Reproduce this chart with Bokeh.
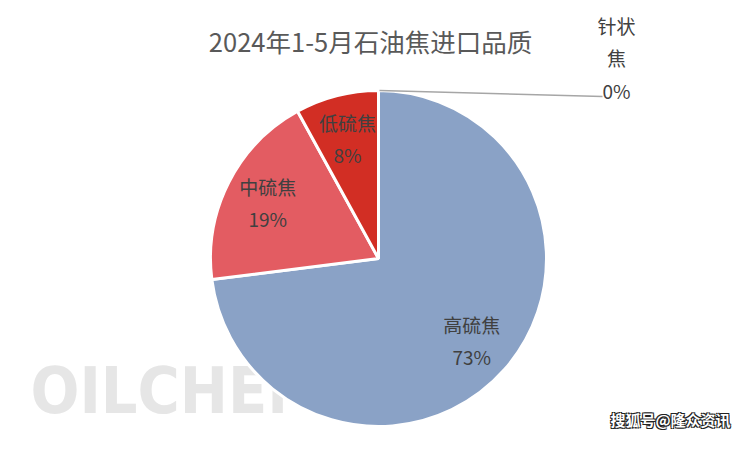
import math
from bokeh.plotting import figure
from bokeh.models import ColumnDataSource, Range1d
from bokeh.core.properties import value
from bokeh.embed import file_html
from bokeh.resources import INLINE

# ---- data ----
title_text = "2024年1-5月石油焦进口品质"
categories = ["高硫焦", "中硫焦", "低硫焦", "针状焦"]
values = [73, 19, 8, 0]
colors = ["#8AA2C6", "#E35C62", "#D22E24", "#F2B134"]

FONT = "Noto Sans CJK SC"
TXT = "#404040"

W, H = 734, 434
p = figure(width=W, height=H, output_backend="svg", toolbar_location=None,
           x_range=Range1d(0, 734), y_range=Range1d(16, 450), min_border=0)
p.axis.visible = False
p.grid.visible = False
p.outline_line_color = None
p.background_fill_color = "white"
p.border_fill_color = "white"

# image coords helper: y_data = 450 - img_y
def Y(img_y):
    return 450 - img_y

# watermark behind the pie
p.text(x=[30], y=[Y(390)], text=["OILCHEM"], text_font=value("DejaVu Sans Condensed"),
       text_font_style="bold", text_font_size="64px", text_color="#E6E6E6",
       text_align="left", text_baseline="middle")

cx, cy, r = 378, Y(258), 168
total = sum(values)
a = math.pi / 2
starts, ends = [], []
for v in values:
    starts.append(a)
    a -= v / total * 2 * math.pi
    ends.append(a)

keep = [i for i, v in enumerate(values) if v > 0]
src = ColumnDataSource(dict(cat=[categories[i] for i in keep], val=[values[i] for i in keep],
                            start=[starts[i] for i in keep], end=[ends[i] for i in keep],
                            color=[colors[i] for i in keep]))
p.wedge(x=cx, y=cy, radius=r, start_angle="end", end_angle="start", fill_color="color",
        line_color="white", line_width=3, source=src)

# inside labels
lx, ly_n, ly_p, names, pcts = [], [], [], [], []
for i in keep:
    mid = (starts[i] + ends[i]) / 2
    rr = 0.74 * r
    x = cx + rr * math.cos(mid)
    y = cy + rr * math.sin(mid)
    lx.append(x)
    ly_n.append(y + 16)
    ly_p.append(y - 16)
    names.append(categories[i])
    pcts.append(f"{values[i]}%")

p.text(x=lx, y=ly_n, text=names, text_font=value(FONT), text_font_size="19px",
       text_color=TXT, text_align="center", text_baseline="middle")
p.text(x=lx, y=ly_p, text=pcts, text_font=value(FONT), text_font_size="19px",
       text_color=TXT, text_align="center", text_baseline="middle")

# outside label for zero slice with leader line
p.line(x=[cx + 1, 602], y=[cy + r, Y(96)], line_color="#A6A6A6", line_width=1.5)
z = categories[3]
p.text(x=[616, 616], y=[Y(25), Y(57)], text=[z[:2], z[2:]], text_font=value(FONT),
       text_font_size="19px", text_color=TXT, text_align="center", text_baseline="middle")
p.text(x=[616], y=[Y(90)], text=[f"{values[3]}%"], text_font=value(FONT),
       text_font_size="19px", text_color=TXT, text_align="center", text_baseline="middle")

# title
p.text(x=[370], y=[Y(40)], text=[title_text], text_font=value(FONT), text_font_size="25.5px",
       text_color="#595959", text_align="center", text_baseline="middle")

# sohu watermark
wm = "搜狐号@隆众资讯"
wy = Y(419)
for dx, dy in [(1, -1), (-1, 1), (1, 1), (-1, -1)]:
    p.text(x=[730 + dx], y=[wy + dy], text=[wm], text_font=value(FONT), text_font_style="bold",
           text_font_size="15px", text_color="#222222", text_align="right", text_baseline="middle")
p.text(x=[730], y=[wy], text=[wm], text_font=value(FONT), text_font_style="bold",
       text_font_size="15px", text_color="white", text_align="right", text_baseline="middle")

open("out.html", "w").write(file_html(p, INLINE))
